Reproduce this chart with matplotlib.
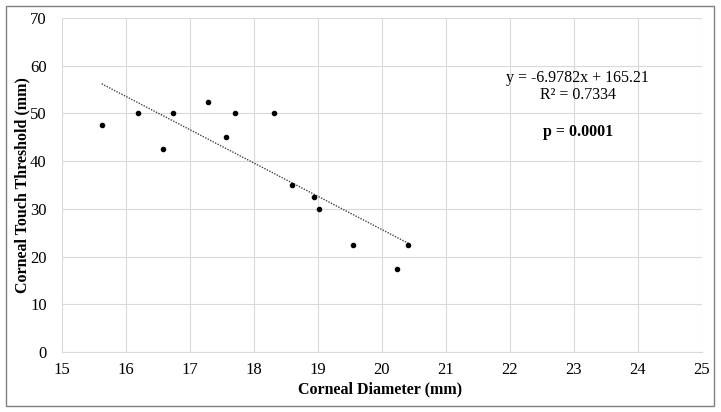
import matplotlib
matplotlib.use("Agg")
import matplotlib.pyplot as plt
import numpy as np
from matplotlib.patches import Rectangle

plt.rcParams['font.family'] = ['Liberation Serif', 'DejaVu Serif']

diameter = [15.62, 16.19, 16.58, 16.73, 17.28, 17.56, 17.70, 18.31, 18.60, 18.94, 19.02, 19.54, 20.24, 20.41]
threshold = [47.5, 50.0, 42.5, 50.0, 52.5, 45.0, 50.0, 50.0, 35.0, 32.5, 30.0, 22.5, 17.5, 22.5]
slope = -6.9782
intercept = 165.21
eq_text = "y = -6.9782x + 165.21"
r2_text = "R² = 0.7334"
p_text = "p = 0.0001"
xticks = list(range(15, 26))
yticks = list(range(0, 71, 10))

fig = plt.figure(figsize=(7.21, 4.12), dpi=100)
ax = fig.add_axes([62/721, 1-352/412, 640/721, 334/412])

ax.set_xlim(15, 25)
ax.set_ylim(0, 70)
ax.set_xticks(xticks)
ax.set_yticks(yticks)
ax.grid(True, color='#d9d9d9', linewidth=0.8)
ax.set_axisbelow(True)
for s in ['top', 'right', 'left']:
    ax.spines[s].set_visible(False)
ax.spines['bottom'].set_color('#d9d9d9')
ax.tick_params(length=0, labelsize=12)
ax.tick_params(axis='y', pad=11)
ax.tick_params(axis='x', pad=7)

ax.scatter(diameter, threshold, s=9, color='black', zorder=3)
xs = np.array([min(diameter), max(diameter)])
ax.plot(xs, slope * xs + intercept, linestyle=(0, (1, 1)), color='#444444', linewidth=1.0, zorder=2)

ax.set_xlabel("Corneal Diameter (mm)", fontsize=11.5, fontweight='bold')
ax.set_ylabel("Corneal Touch Threshold (mm)", fontsize=11.5, fontweight='bold')
ax.xaxis.set_label_coords(0.497, -0.111)
ax.yaxis.set_label_coords(-0.0625, 0.5)
ax.xaxis.label.set_va('center')
ax.yaxis.label.set_va('center')

ax.text(23.06, 57.4, eq_text, ha='center', va='center', fontsize=11.5)
ax.text(23.06, 53.9, r2_text, ha='center', va='center', fontsize=11.5)
ax.text(23.06, 46.1, p_text, ha='center', va='center', fontsize=11.5, fontweight='bold')

fig.patches.append(Rectangle((6/721, 6/412), 708/721, 400/412, transform=fig.transFigure,
                             fill=False, edgecolor='#808080', linewidth=1.0))

fig.savefig("out.png", dpi=100)
